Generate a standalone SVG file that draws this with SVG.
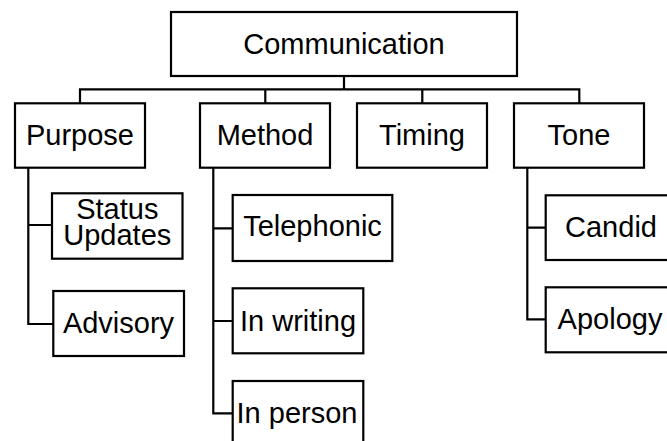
<svg xmlns="http://www.w3.org/2000/svg" width="667" height="441" viewBox="0 0 667 441">
  <style>
    .box { fill: #fff; stroke: #000; stroke-width: 2.2; }
    .lbl { font-family: "Liberation Sans", Arial, sans-serif; font-size: 29px; fill: #000; text-anchor: middle; }
    .wire { fill: none; stroke: #000; stroke-width: 2.2; stroke-linecap: square; }
  </style>
  <rect width="667" height="441" fill="#fff"/>

  <!-- connectors -->
  <g id="connectors">
    <path class="wire" d="M344 76 V89.3 M80 89.3 H579.3 M80 89.3 V103.3 M265.3 89.3 V103.3 M422.3 89.3 V103.3 M579.3 89.3 V103.3"/>
    <path class="wire" d="M28.3 167.7 V324 H53 M28.3 225 H52"/>
    <path class="wire" d="M213.3 167.7 V413.3 H232.7 M213.3 228.3 H232.7 M213.3 321 H232.7"/>
    <path class="wire" d="M527.3 167.7 V319.3 H545.7 M527.3 227.7 H545.7"/>
  </g>

  <!-- root -->
  <g id="communication">
    <rect class="box" x="171" y="12" width="346" height="64"/>
    <text class="lbl" x="344" y="53.5">Communication</text>
  </g>

  <!-- first level -->
  <g id="purpose">
    <rect class="box" x="15" y="103.3" width="130" height="64.4"/>
    <text class="lbl" x="80" y="145">Purpose</text>
  </g>
  <g id="method">
    <rect class="box" x="200" y="103.3" width="130" height="64.4"/>
    <text class="lbl" x="265" y="145">Method</text>
  </g>
  <g id="timing">
    <rect class="box" x="357" y="103.3" width="130" height="64.4"/>
    <text class="lbl" x="422" y="145">Timing</text>
  </g>
  <g id="tone">
    <rect class="box" x="514" y="103.3" width="130" height="64.4"/>
    <text class="lbl" x="579" y="145">Tone</text>
  </g>

  <!-- purpose children -->
  <g id="status-updates">
    <rect class="box" x="52" y="193.3" width="130.5" height="65.4"/>
    <text class="lbl" x="117.3" y="219.3">Status</text>
    <text class="lbl" x="117.3" y="245">Updates</text>
  </g>
  <g id="advisory">
    <rect class="box" x="53.3" y="291" width="130.7" height="65"/>
    <text class="lbl" x="118.5" y="333.3">Advisory</text>
  </g>

  <!-- method children -->
  <g id="telephonic">
    <rect class="box" x="232.7" y="195" width="159.6" height="66"/>
    <text class="lbl" x="312.5" y="236">Telephonic</text>
  </g>
  <g id="in-writing">
    <rect class="box" x="232.7" y="288.3" width="130.6" height="65"/>
    <text class="lbl" x="298" y="330.7">In writing</text>
  </g>
  <g id="in-person">
    <rect class="box" x="232.7" y="381" width="130.6" height="65"/>
    <text class="lbl" x="297" y="422.7">In person</text>
  </g>

  <!-- tone children -->
  <g id="candid">
    <rect class="box" x="545.7" y="195.3" width="130.6" height="64.7"/>
    <text class="lbl" x="611" y="236.7">Candid</text>
  </g>
  <g id="apology">
    <rect class="box" x="545.7" y="287.3" width="130.6" height="65"/>
    <text class="lbl" x="610" y="329">Apology</text>
  </g>
</svg>
